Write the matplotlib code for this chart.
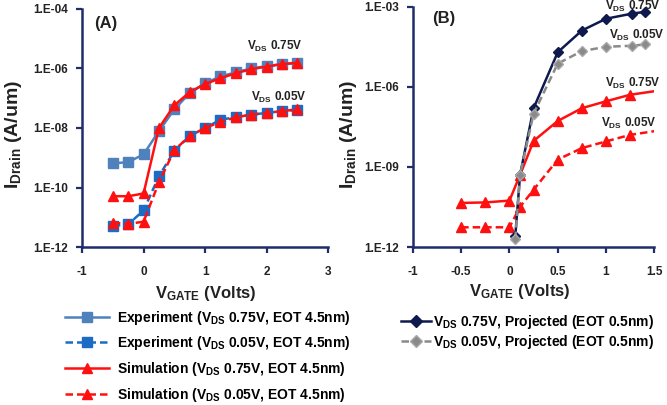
import numpy as np
import matplotlib
matplotlib.use("Agg")
import matplotlib.pyplot as plt
from matplotlib.lines import Line2D

plt.rcParams['font.family'] = ['Liberation Sans', 'DejaVu Sans']
plt.rcParams['font.weight'] = 'bold'
plt.rcParams['axes.unicode_minus'] = False
plt.rcParams['mathtext.fontset'] = 'custom'
plt.rcParams['mathtext.rm'] = 'Liberation Sans:bold'
plt.rcParams['mathtext.bf'] = 'Liberation Sans:bold'
plt.rcParams['mathtext.it'] = 'Liberation Sans:bold'

# ---- panel A data (EOT 4.5nm) ----
vg_a = [-0.5, -0.25, 0, 0.25, 0.5, 0.75, 1.0, 1.25, 1.5, 1.75, 2.0, 2.25, 2.5]
exp_075 = [6.5e-10, 7.1e-10, 1.3e-9, 7.9e-9, 4.2e-8, 1.5e-7, 3.2e-7, 5.4e-7, 7.4e-7, 1.0e-6, 1.2e-6, 1.4e-6, 1.5e-6]
exp_005 = [5.1e-12, 5.8e-12, 1.7e-11, 2.4e-10, 1.7e-9, 5.4e-9, 1.0e-8, 1.9e-8, 2.3e-8, 2.8e-8, 3.2e-8, 3.7e-8, 4.0e-8]
sim_075 = [5.1e-11, 5.1e-11, 6.3e-11, 1.0e-8, 5.8e-8, 1.6e-7, 3.0e-7, 4.7e-7, 6.9e-7, 9.5e-7, 1.15e-6, 1.4e-6, 1.55e-6]
sim_005 = [6.6e-12, 6.0e-12, 7.1e-12, 1.5e-10, 1.8e-9, 5.4e-9, 1.0e-8, 1.6e-8, 2.3e-8, 2.8e-8, 3.2e-8, 3.7e-8, 4.2e-8]

# ---- panel B data ----
vg_b_sim = [-0.5, -0.25, 0, 0.11, 0.25, 0.5, 0.75, 1.0, 1.25, 1.5]
simb_075 = [4.5e-11, 4.7e-11, 5.5e-11, 5.1e-10, 9.5e-9, 5.3e-8, 1.6e-7, 2.9e-7, 5.1e-7, 6.9e-7]
simb_005 = [5.5e-12, 5.5e-12, 5.5e-12, 3.2e-11, 1.4e-10, 1.9e-9, 5.1e-9, 9.1e-9, 1.6e-8, 2.2e-8]
vg_b_proj = [0.06, 0.11, 0.25, 0.5, 0.75, 1.0, 1.27, 1.4]
proj_075 = [2.5e-12, 5.1e-10, 1.6e-7, 2.0e-5, 1.3e-4, 3.6e-4, 5.6e-4, 6.5e-4]
proj_005 = [2.0e-12, 5.1e-10, 1.0e-7, 7.5e-6, 2.2e-5, 3.2e-5, 3.5e-5, 3.9e-5]

# ticks
xticks_a = [-1, 0, 1, 2, 3]
xticklabels_a = ['-1', '0', '1', '2', '3']
yticks_a = [1e-12, 1e-10, 1e-8, 1e-6, 1e-4]
yticklabels_a = ['1.E-12', '1.E-10', '1.E-08', '1.E-06', '1.E-04']
xticks_b = [-1, -0.5, 0, 0.5, 1, 1.5]
xticklabels_b = ['-1', '-0.5', '0', '0.5', '1', '1.5']
yticks_b = [1e-12, 1e-9, 1e-6, 1e-3]
yticklabels_b = ['1.E-12', '1.E-09', '1.E-06', '1.E-03']

c_exp1 = '#4F81BD'
c_exp2 = '#1A6CC4'
c_red = '#FF1010'
c_navy = '#0E1A4E'
c_grey = '#8A8A8A'
c_axis = '#1F2D6B'
dash = (0, (3, 1.6))

fig = plt.figure(figsize=(6.67, 4.05), dpi=100)
ax_a = fig.add_axes([0.123, 0.390, 0.369, 0.588])
ax_b = fig.add_axes([0.619, 0.390, 0.362, 0.593])

lw = 1.8
ax_a.plot(vg_a, exp_075, color=c_exp1, lw=lw, marker='s', ms=6.5, zorder=2)
ax_a.plot(vg_a, exp_005, color=c_exp2, lw=lw, ls=dash, marker='s', ms=6.5, zorder=2)
ax_a.plot(vg_a, sim_075, color=c_red, lw=lw, marker='^', ms=6.5, zorder=3)
ax_a.plot(vg_a, sim_005, color=c_red, lw=lw, ls=dash, marker='^', ms=6.5, zorder=3)

ax_b.plot(vg_b_sim, simb_075, color=c_red, lw=lw, marker='^', ms=6.5,
          markevery=list(range(len(vg_b_sim) - 1)), zorder=2)
ax_b.plot(vg_b_sim, simb_005, color=c_red, lw=lw, ls=dash, marker='^', ms=6.5,
          markevery=list(range(len(vg_b_sim) - 1)), zorder=2)
ax_b.plot(vg_b_proj, proj_075, color=c_navy, lw=lw, marker='D', ms=5.5, zorder=3)
ax_b.plot(vg_b_proj, proj_005, color=c_grey, lw=lw, ls=dash, marker='D', ms=5.5,
          mec='#A9A9A9', zorder=4)

for ax, xt, xtl, yt, ytl, xl, yl in [
        (ax_a, xticks_a, xticklabels_a, yticks_a, yticklabels_a, (-1, 3), (1e-12, 1e-4)),
        (ax_b, xticks_b, xticklabels_b, yticks_b, yticklabels_b, (-1, 1.5), (1e-12, 1e-3))]:
    ax.set_yscale('log')
    ax.set_xlim(*xl)
    ax.set_ylim(*yl)
    ax.set_xticks(xt)
    ax.set_xticklabels(xtl)
    ax.set_yticks(yt)
    ax.set_yticklabels(ytl)
    ax.minorticks_off()
    for s in ['top', 'right']:
        ax.spines[s].set_visible(False)
    for s in ['left', 'bottom']:
        ax.spines[s].set_color(c_axis)
        ax.spines[s].set_linewidth(1.8)
    ax.tick_params(axis='both', colors=c_axis, width=1.6, length=4, labelcolor='#222222',
                   labelsize=8.5)
    ax.tick_params(axis='x', pad=10)
    ax.tick_params(axis='y', pad=6)
    for t in ax.get_xticklabels() + ax.get_yticklabels():
        t.set_fontweight('bold')
    ax.set_xlabel(r'$\mathbf{V_{GATE}}$ (Volts)', fontsize=12, fontweight='bold', color='#222222')
    ax.set_ylabel(r'$\mathbf{I_{Drain}}$ (A/um)', fontsize=14, fontweight='bold', color='#222222')
    ax.patch.set_visible(False)

ax_a.xaxis.set_label_coords(0.504, -0.155)
ax_a.yaxis.set_label_coords(-0.235, 0.475)
ax_b.xaxis.set_label_coords(0.444, -0.145)
ax_b.yaxis.set_label_coords(-0.225, 0.47)

tk = dict(fontsize=12, fontweight='bold', color='#222222')
ax_a.text(-0.8, 2.2e-5, '(A)', **tk)
ax_b.text(-0.8, 2.5e-4, '(B)', **tk)

an = dict(fontsize=8.5, fontweight='bold', color='#222222', ha='center', va='center')
ax_a.text(2.13, 5.4e-6, r'$\mathbf{V_{DS}}$ 0.75V', **an)
ax_a.text(2.2, 1.07e-7, r'$\mathbf{V_{DS}}$ 0.05V', **an)
ax_b.text(1.28, 1.05e-3, r'$\mathbf{V_{DS}}$ 0.75V', clip_on=False, **an)
ax_b.text(1.32, 8.5e-5, r'$\mathbf{V_{DS}}$ 0.05V', clip_on=False, **an)
ax_b.text(1.28, 1.3e-6, r'$\mathbf{V_{DS}}$ 0.75V', **an)
ax_b.text(1.24, 4.3e-8, r'$\mathbf{V_{DS}}$ 0.05V', **an)

h_a = [
    Line2D([], [], color=c_exp1, lw=lw, marker='s', ms=7.5),
    Line2D([], [], color=c_exp2, lw=lw, ls=dash, marker='s', ms=7.5),
    Line2D([], [], color=c_red, lw=lw, marker='^', ms=7.5),
    Line2D([], [], color=c_red, lw=lw, ls=dash, marker='^', ms=7.5),
]
lab_a = [
    r'Experiment ($\mathbf{V_{DS}}$ 0.75V, EOT 4.5nm)',
    r'Experiment ($\mathbf{V_{DS}}$ 0.05V, EOT 4.5nm)',
    r'Simulation ($\mathbf{V_{DS}}$ 0.75V, EOT 4.5nm)',
    r'Simulation ($\mathbf{V_{DS}}$ 0.05V, EOT 4.5nm)',
]
h_b = [
    Line2D([], [], color=c_navy, lw=lw, marker='D', ms=6),
    Line2D([], [], color=c_grey, lw=lw, ls=dash, marker='D', ms=6, mec='#A9A9A9'),
]
lab_b = [
    r'$\mathbf{V_{DS}}$ 0.75V, Projected (EOT 0.5nm)',
    r'$\mathbf{V_{DS}}$ 0.05V, Projected (EOT 0.5nm)',
]

leg_a = fig.legend(h_a, lab_a, loc='upper left', bbox_to_anchor=(0.097, 0.238),
                   frameon=False, borderpad=0, borderaxespad=0, handlelength=3.2,
                   handletextpad=0.6, labelspacing=0.55, prop=dict(size=10, weight='bold'))
leg_b = fig.legend(h_b, lab_b, loc='upper left', bbox_to_anchor=(0.601, 0.228),
                   frameon=False, borderpad=0, borderaxespad=0, handlelength=2.2,
                   handletextpad=0.1, labelspacing=0.15, prop=dict(size=10, weight='bold'))

fig.savefig('out.png', dpi=100)
